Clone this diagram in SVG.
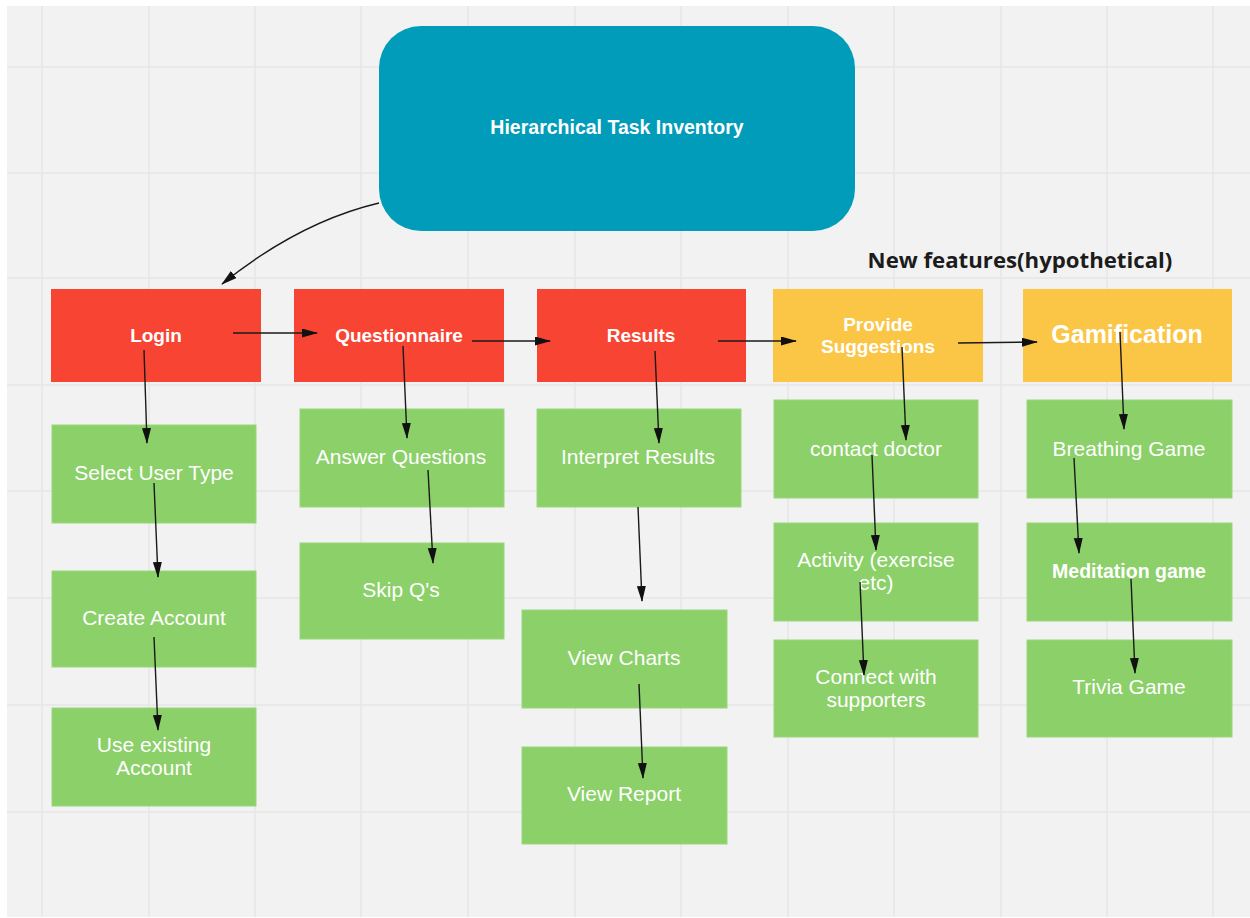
<svg xmlns="http://www.w3.org/2000/svg" width="1250" height="918" viewBox="0 0 1250 918">
<defs>
<style>
.grid line{stroke:#e6e6e6;stroke-width:1.5}
.red{fill:#f84432}
.yel{fill:#fbc546}
.grn{fill:#8bd069;stroke:#9ad87a;stroke-width:1}
.lbl{font-family:"Liberation Sans",Arial,sans-serif;fill:#fff;text-anchor:middle;dominant-baseline:central}
.b{font-weight:bold;font-size:19px}
.g{font-size:21px}
.conn path{fill:none;stroke:#1a1a1a;stroke-width:1.4;marker-end:url(#ah)}
</style>
<marker id="ah" markerUnits="userSpaceOnUse" markerWidth="16" markerHeight="10" refX="15" refY="4.5" orient="auto">
<path d="M0,0 L16,4.5 L0,9 z" fill="#111"/>
</marker>
</defs>
<rect x="0" y="0" width="1250" height="918" fill="#ffffff"/>
<rect x="7" y="6" width="1243" height="911" fill="#f2f2f2"/>
<g class="grid">
<line x1="42" y1="6" x2="42" y2="917"/><line x1="149" y1="6" x2="149" y2="917"/><line x1="255" y1="6" x2="255" y2="917"/><line x1="361" y1="6" x2="361" y2="917"/><line x1="468" y1="6" x2="468" y2="917"/><line x1="575" y1="6" x2="575" y2="917"/><line x1="681" y1="6" x2="681" y2="917"/><line x1="788" y1="6" x2="788" y2="917"/><line x1="894" y1="6" x2="894" y2="917"/><line x1="1001" y1="6" x2="1001" y2="917"/><line x1="1107" y1="6" x2="1107" y2="917"/><line x1="1213" y1="6" x2="1213" y2="917"/>
<line x1="7" y1="67" x2="1250" y2="67"/><line x1="7" y1="173" x2="1250" y2="173"/><line x1="7" y1="278" x2="1250" y2="278"/><line x1="7" y1="385" x2="1250" y2="385"/><line x1="7" y1="491" x2="1250" y2="491"/><line x1="7" y1="598" x2="1250" y2="598"/><line x1="7" y1="705" x2="1250" y2="705"/><line x1="7" y1="812" x2="1250" y2="812"/>
</g>

<g id="root">
<rect x="379" y="26" width="476" height="205" rx="42" fill="#019cba"/>
<text class="lbl" x="617" y="127" font-weight="bold" font-size="19.5">Hierarchical Task Inventory</text>
</g>
<g id="newfeatures">
<text x="1020" y="259" font-family="'Open Sans','Liberation Sans',sans-serif" font-weight="bold" font-size="22.2" fill="#1c1c1c" text-anchor="middle" dominant-baseline="central">New features(hypothetical)</text>
</g>

<g id="login"><rect class="red" x="51" y="289" width="210" height="93"/><text class="lbl b" x="156" y="335">Login</text></g>
<g id="questionnaire"><rect class="red" x="294" y="289" width="210" height="93"/><text class="lbl b" x="399" y="335">Questionnaire</text></g>
<g id="results"><rect class="red" x="537" y="289" width="209" height="93"/><text class="lbl b" x="641" y="335">Results</text></g>
<g id="suggestions"><rect class="yel" x="773" y="289" width="210" height="93"/><text class="lbl b" x="878" y="324">Provide</text><text class="lbl b" x="878" y="346">Suggestions</text></g>
<g id="gamification"><rect class="yel" x="1023" y="289" width="209" height="93"/><text class="lbl" x="1127" y="334" font-weight="bold" font-size="25">Gamification</text></g>

<g id="selectusertype"><rect class="grn" x="52" y="425" width="204" height="98"/><text class="lbl g" x="154" y="472">Select User Type</text></g>
<g id="createaccount"><rect class="grn" x="52" y="571" width="204" height="96"/><text class="lbl g" x="154" y="617">Create Account</text></g>
<g id="useexisting"><rect class="grn" x="52" y="708" width="204" height="98"/><text class="lbl g" x="154" y="744">Use existing</text><text class="lbl g" x="154" y="767">Account</text></g>

<g id="answerquestions"><rect class="grn" x="300" y="409" width="204" height="98"/><text class="lbl g" x="401" y="456">Answer Questions</text></g>
<g id="skipqs"><rect class="grn" x="300" y="543" width="204" height="96"/><text class="lbl g" x="401" y="589">Skip Q's</text></g>

<g id="interpretresults"><rect class="grn" x="537" y="409" width="204" height="98"/><text class="lbl g" x="638" y="456">Interpret Results</text></g>
<g id="viewcharts"><rect class="grn" x="522" y="610" width="205" height="98"/><text class="lbl g" x="624" y="657">View Charts</text></g>
<g id="viewreport"><rect class="grn" x="522" y="747" width="205" height="97"/><text class="lbl g" x="624" y="793">View Report</text></g>

<g id="contactdoctor"><rect class="grn" x="774" y="400" width="204" height="98"/><text class="lbl g" x="876" y="448">contact doctor</text></g>
<g id="activity"><rect class="grn" x="774" y="523" width="204" height="98"/><text class="lbl g" x="876" y="559">Activity (exercise</text><text class="lbl g" x="876" y="582">etc)</text></g>
<g id="connect"><rect class="grn" x="774" y="640" width="204" height="97"/><text class="lbl g" x="876" y="676">Connect with</text><text class="lbl g" x="876" y="699">supporters</text></g>

<g id="breathing"><rect class="grn" x="1027" y="400" width="205" height="98"/><text class="lbl g" x="1129" y="448">Breathing Game</text></g>
<g id="meditation"><rect class="grn" x="1027" y="523" width="205" height="98"/><text class="lbl" x="1129" y="571" font-weight="bold" font-size="19.5">Meditation game</text></g>
<g id="trivia"><rect class="grn" x="1027" y="640" width="205" height="97"/><text class="lbl g" x="1129" y="686">Trivia Game</text></g>

<g class="conn">
<path d="M379,203 Q299,222 222,284"/>
<path d="M233,333 L317,333"/>
<path d="M472,341 L550,341"/>
<path d="M718,341 L796,341"/>
<path d="M958,343 L1037,342"/>
<path d="M144,350 L147,443"/>
<path d="M154,483 L158,577"/>
<path d="M154,637 L158,730"/>
<path d="M403,346 L407,438"/>
<path d="M428,470 L433,563"/>
<path d="M655,351 L659,443"/>
<path d="M638,507 L642,601"/>
<path d="M639,684 L643,778"/>
<path d="M902,347 L906,440"/>
<path d="M872,455 L876,550"/>
<path d="M860,582 L864,675"/>
<path d="M1120,332 L1124,429"/>
<path d="M1074,458 L1079,553"/>
<path d="M1131,579 L1135,673"/>
</g>
</svg>
